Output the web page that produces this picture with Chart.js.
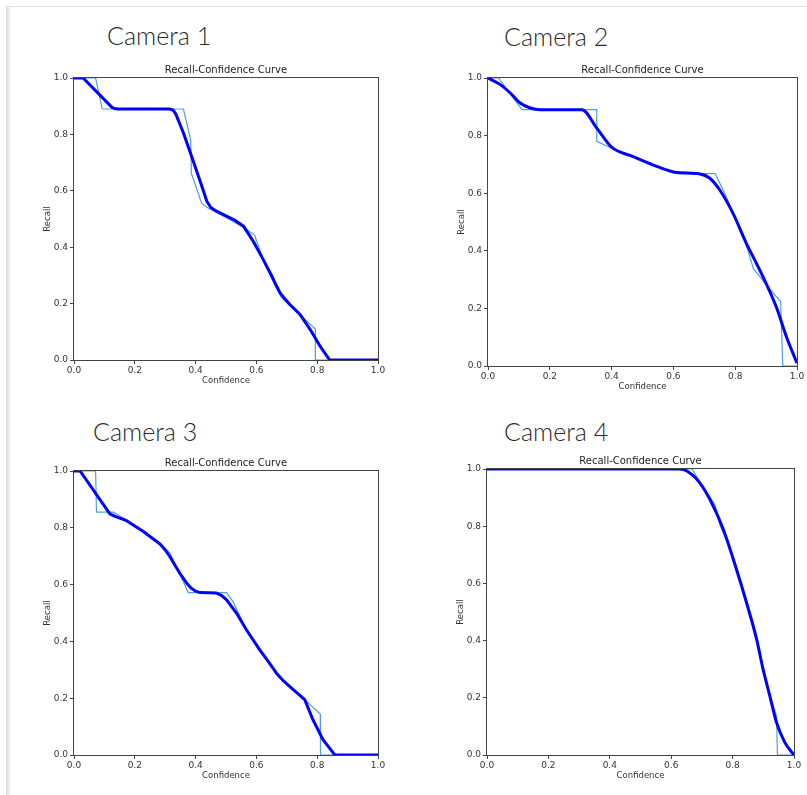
<!DOCTYPE html>
<html>
<head>
<meta charset="utf-8">
<title>Recall-Confidence Curves</title>
<script src="https://cdn.jsdelivr.net/npm/chart.js@4.4.1/dist/chart.umd.min.js"></script>
<style>
    body { margin: 0; background: #fff; width: 807px; height: 795px; overflow: hidden; position: relative; }
    .edge-top { position: absolute; left: 6px; top: 6px; width: 801px; height: 1px; background: #e0e0e0; }
    .edge-left { position: absolute; left: 6px; top: 6px; width: 4px; height: 789px; background: linear-gradient(to right, #dcdcdc, #f3f3f3); }
    .cam-label { position: absolute; font-family: "Lato", "Noto Sans", sans-serif; font-weight: 300; font-size: 25px; line-height: 25px; color: #2a2a2a; white-space: nowrap; }
    .panel { position: absolute; }
</style>
</head>
<body>
<div class="edge-top"></div>
<div class="edge-left"></div>

<div class="cam-label" style="left:107px; top:23px;">Camera 1</div>
<div class="cam-label" style="left:504px; top:24px;">Camera 2</div>
<div class="cam-label" style="left:93px; top:419px;">Camera 3</div>
<div class="cam-label" style="left:504px; top:419px;">Camera 4</div>

<div class="panel" id="p1"><canvas id="c1"></canvas></div>
<div class="panel" id="p2"><canvas id="c2"></canvas></div>
<div class="panel" id="p3"><canvas id="c3"></canvas></div>
<div class="panel" id="p4"><canvas id="c4"></canvas></div>

<script>
/* global Chart, document */

// Camera 1
const cam1RawX = [0, 0.071, 0.093, 0.36, 0.384, 0.386, 0.42, 0.442, 0.5, 0.558, 0.594, 0.629, 0.682, 0.744, 0.794, 0.794, 1.0];
const cam1RawY = [1, 1, 0.89, 0.89, 0.78, 0.662, 0.555, 0.538, 0.505, 0.47, 0.443, 0.337, 0.221, 0.16, 0.11, 0, 0];
const cam1SmoothX = [0, 0.03, 0.125, 0.135, 0.145, 0.315, 0.326, 0.335, 0.36, 0.387, 0.415, 0.437, 0.45, 0.47, 0.525, 0.558, 0.59, 0.623, 0.651, 0.665, 0.678, 0.695, 0.711, 0.744, 0.777, 0.81, 0.841, 1.0];
const cam1SmoothY = [1, 1, 0.896, 0.891, 0.89, 0.89, 0.886, 0.872, 0.805, 0.722, 0.634, 0.563, 0.541, 0.527, 0.498, 0.474, 0.42, 0.355, 0.297, 0.265, 0.238, 0.215, 0.196, 0.161, 0.108, 0.048, 0, 0];

// Camera 2
const cam2RawX = [0, 0.034, 0.11, 0.352, 0.352, 0.40, 0.47, 0.546, 0.616, 0.735, 0.766, 0.80, 0.83, 0.859, 0.902, 0.947, 0.954, 1.0];
const cam2RawY = [1, 1, 0.89, 0.89, 0.78, 0.756, 0.727, 0.693, 0.668, 0.668, 0.60, 0.515, 0.44, 0.338, 0.28, 0.224, 0, 0];
const cam2SmoothX = [0, 0.04, 0.072, 0.104, 0.137, 0.169, 0.304, 0.352, 0.40, 0.47, 0.546, 0.61, 0.686, 0.718, 0.75, 0.793, 0.836, 0.869, 0.9, 0.933, 0.966, 1.0];
const cam2SmoothY = [1, 0.977, 0.948, 0.913, 0.896, 0.89, 0.89, 0.826, 0.76, 0.727, 0.693, 0.672, 0.667, 0.652, 0.611, 0.53, 0.426, 0.356, 0.287, 0.205, 0.101, 0.01];

// Camera 3
const cam3RawX = [0, 0.071, 0.074, 0.129, 0.18, 0.23, 0.283, 0.315, 0.376, 0.502, 0.523, 0.567, 0.611, 0.666, 0.71, 0.759, 0.81, 0.811, 1.0];
const cam3RawY = [1, 1, 0.855, 0.855, 0.823, 0.786, 0.743, 0.713, 0.572, 0.572, 0.54, 0.441, 0.37, 0.288, 0.241, 0.195, 0.144, 0, 0];
const cam3SmoothX = [0, 0.02, 0.118, 0.135, 0.173, 0.228, 0.283, 0.3, 0.315, 0.348, 0.37, 0.385, 0.4, 0.414, 0.469, 0.485, 0.502, 0.535, 0.567, 0.611, 0.64, 0.666, 0.69, 0.71, 0.759, 0.786, 0.819, 0.858, 1.0];
const cam3SmoothY = [1, 1, 0.849, 0.84, 0.825, 0.787, 0.743, 0.722, 0.699, 0.64, 0.606, 0.588, 0.577, 0.572, 0.57, 0.562, 0.546, 0.499, 0.441, 0.37, 0.328, 0.288, 0.26, 0.241, 0.195, 0.124, 0.054, 0, 0];

// Camera 4
const cam4RawX = [0, 0.668, 0.705, 0.742, 0.76, 0.785, 0.815, 0.845, 0.86, 0.878, 0.90, 0.92, 0.943, 0.946, 1.0];
const cam4RawY = [1, 1, 0.935, 0.876, 0.80, 0.74, 0.65, 0.53, 0.47, 0.40, 0.30, 0.21, 0.138, 0, 0];
const cam4SmoothX = [0, 0.628, 0.682, 0.725, 0.769, 0.812, 0.845, 0.878, 0.899, 0.921, 0.943, 0.97, 1.0];
const cam4SmoothY = [1, 1, 0.966, 0.896, 0.791, 0.651, 0.534, 0.406, 0.301, 0.208, 0.114, 0.044, 0];

const axisTicks = [0, 0.2, 0.4, 0.6, 0.8, 1.0];
const chartTitle = "Recall-Confidence Curve";
const xTitle = "Confidence";
const yTitle = "Recall";

// plot-area boxes in page pixels: left, top, right, bottom
// cameras 1 and 3 have sharp knees in the smoothed curve, so they are drawn as polylines
const panels = [
    { id: "1", box: [74, 78, 378, 360], rawX: cam1RawX, rawY: cam1RawY, smoothX: cam1SmoothX, smoothY: cam1SmoothY, spline: false },
    { id: "2", box: [488, 78, 797, 366], rawX: cam2RawX, rawY: cam2RawY, smoothX: cam2SmoothX, smoothY: cam2SmoothY, spline: true },
    { id: "3", box: [74, 471, 378, 755], rawX: cam3RawX, rawY: cam3RawY, smoothX: cam3SmoothX, smoothY: cam3SmoothY, spline: false },
    { id: "4", box: [487, 469, 794, 755], rawX: cam4RawX, rawY: cam4RawY, smoothX: cam4SmoothX, smoothY: cam4SmoothY, spline: true }
];

const Y_AXIS_W = 34;
const X_AXIS_H = 28;
const TITLE_H = 14;
const PAD_RIGHT = 10;

Chart.defaults.font.family = "'DejaVu Sans', sans-serif";
Chart.defaults.color = "#333";

// matplotlib-style box around the axes
const framePlugin = {
    id: "frame",
    beforeDatasetsDraw(chart) {
        const { ctx, chartArea: a } = chart;
        ctx.save();
        ctx.strokeStyle = "#444";
        ctx.lineWidth = 1;
        ctx.strokeRect(Math.round(a.left) - 0.5, Math.round(a.top) - 0.5, Math.round(a.right - a.left) + 1, Math.round(a.bottom - a.top) + 1);
        ctx.restore();
    }
};

function toPoints(xs, ys) {
    return xs.map((x, i) => ({ x: x, y: ys[i] }));
}

function axisOptions(title, isX) {
    return {
        type: "linear",
        min: 0,
        max: 1,
        afterBuildTicks: (scale) => { scale.ticks = axisTicks.map(v => ({ value: v })); },
        afterFit: (scale) => {
            if (isX) { scale.height = X_AXIS_H; } else { scale.width = Y_AXIS_W; }
        },
        border: { display: false },
        grid: { display: true, drawOnChartArea: false, drawTicks: true, tickLength: 4, tickColor: "#444", tickWidth: 1 },
        ticks: {
            autoSkip: false,
            maxRotation: 0,
            padding: isX ? 1 : 2,
            color: "#333",
            font: { size: 9 },
            callback: (v) => Number(v).toFixed(1)
        },
        title: {
            display: true,
            text: title,
            color: "#333",
            font: { size: 8.5 },
            padding: isX ? { top: 0, bottom: 2 } : { top: 3, bottom: 0 }
        }
    };
}

function drawPanel(p) {
    const [left, top, right, bottom] = p.box;
    const wrap = document.getElementById("p" + p.id);
    wrap.style.left = (left - Y_AXIS_W) + "px";
    wrap.style.top = (top - TITLE_H) + "px";
    wrap.style.width = (right - left + Y_AXIS_W + PAD_RIGHT) + "px";
    wrap.style.height = (bottom - top + TITLE_H + X_AXIS_H) + "px";

    const smoothed = {
        label: "smoothed",
        data: toPoints(p.smoothX, p.smoothY),
        borderColor: "#0000ff",
        borderWidth: 3,
        borderJoinStyle: "round",
        pointRadius: 0,
        fill: false
    };
    if (p.spline) {
        smoothed.cubicInterpolationMode = "monotone";
    } else {
        smoothed.tension = 0;
    }

    new Chart(document.getElementById("c" + p.id), {
        type: "line",
        data: {
            datasets: [
                smoothed,
                {
                    label: "raw",
                    data: toPoints(p.rawX, p.rawY),
                    borderColor: "#549fd6",
                    borderWidth: 1.2,
                    tension: 0,
                    pointRadius: 0,
                    fill: false
                }
            ]
        },
        options: {
            responsive: true,
            maintainAspectRatio: false,
            animation: false,
            layout: { padding: { left: 0, right: PAD_RIGHT, top: 0, bottom: 0 } },
            plugins: {
                legend: { display: false },
                tooltip: { enabled: false },
                title: {
                    display: true,
                    text: chartTitle,
                    fullSize: false,
                    color: "#222",
                    font: { size: 10, weight: "normal" },
                    padding: { top: 0, bottom: 2 }
                }
            },
            scales: {
                x: axisOptions(xTitle, true),
                y: axisOptions(yTitle, false)
            }
        },
        plugins: [framePlugin]
    });
}

panels.forEach(drawPanel);
</script>
</body>
</html>
